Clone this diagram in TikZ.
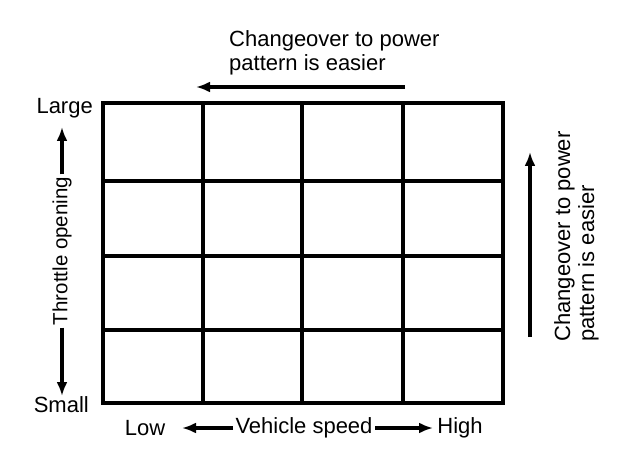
\documentclass[tikz,border=0pt]{standalone}
\usepackage{fontspec}
\setmainfont{Liberation Sans}
\usetikzlibrary{arrows.meta}
\begin{document}
\begin{tikzpicture}[x=1pt,y=-1pt,
  lbl/.style={inner sep=0pt,font=\fontsize{22}{26}\selectfont},
  axlbl/.style={inner sep=0pt,outer sep=2.5pt,font=\fontsize{22}{26}\selectfont},
  gridline/.style={line width=3.4pt},
  arr/.style={line width=3.2pt,-{Latex[length=14pt,width=11pt]}}]
\useasboundingbox (0,0) rectangle (640,468);
% grid
\coordinate (g00) at (103,103);
\coordinate (g11) at (503,403);
\draw[gridline] (g00) rectangle (g11);
\foreach \x in {203,302,403} \draw[gridline] (\x,103) -- (\x,403);
\foreach \y in {181,256,330} \draw[gridline] (103,\y) -- (503,\y);
% top label
\node[lbl,align=left,anchor=north west] (top) at (229,30) {Changeover to power\\[-2pt]pattern is easier};
\coordinate (ta) at (405,87);
\coordinate (tb) at (196,87);
\draw[arr] (ta) -- (tb);
% left
\node[lbl,anchor=east] (large) at (93,108) {Large};
\node[lbl,anchor=east] (small) at (89,405) {Small};
\node[axlbl,rotate=90,font=\fontsize{20.5}{25}\selectfont] (thr) at (62,251) {Throttle opening};
\coordinate (lu2) at (62,127);
\coordinate (ld2) at (62,396);
\draw[arr] (thr) -- (lu2);
\draw[arr] (thr) -- (ld2);
% bottom
\node[lbl] (low) at (145,428) {Low};
\node[axlbl] (vs) at (304,428) {Vehicle speed};
\node[lbl] (high) at (460,428) {High};
\coordinate (blt) at (182,428);
\coordinate (brt) at (433,428);
\draw[arr] (vs) -- (blt);
\draw[arr] (vs) -- (brt);
% right
\coordinate (ra) at (530,337);
\coordinate (rb) at (530,152);
\draw[arr] (ra) -- (rb);
\node[lbl,rotate=90,align=left,anchor=north west] (rt) at (554,342) {Changeover to power\\[-2pt]pattern is easier};
\end{tikzpicture}
\end{document}
